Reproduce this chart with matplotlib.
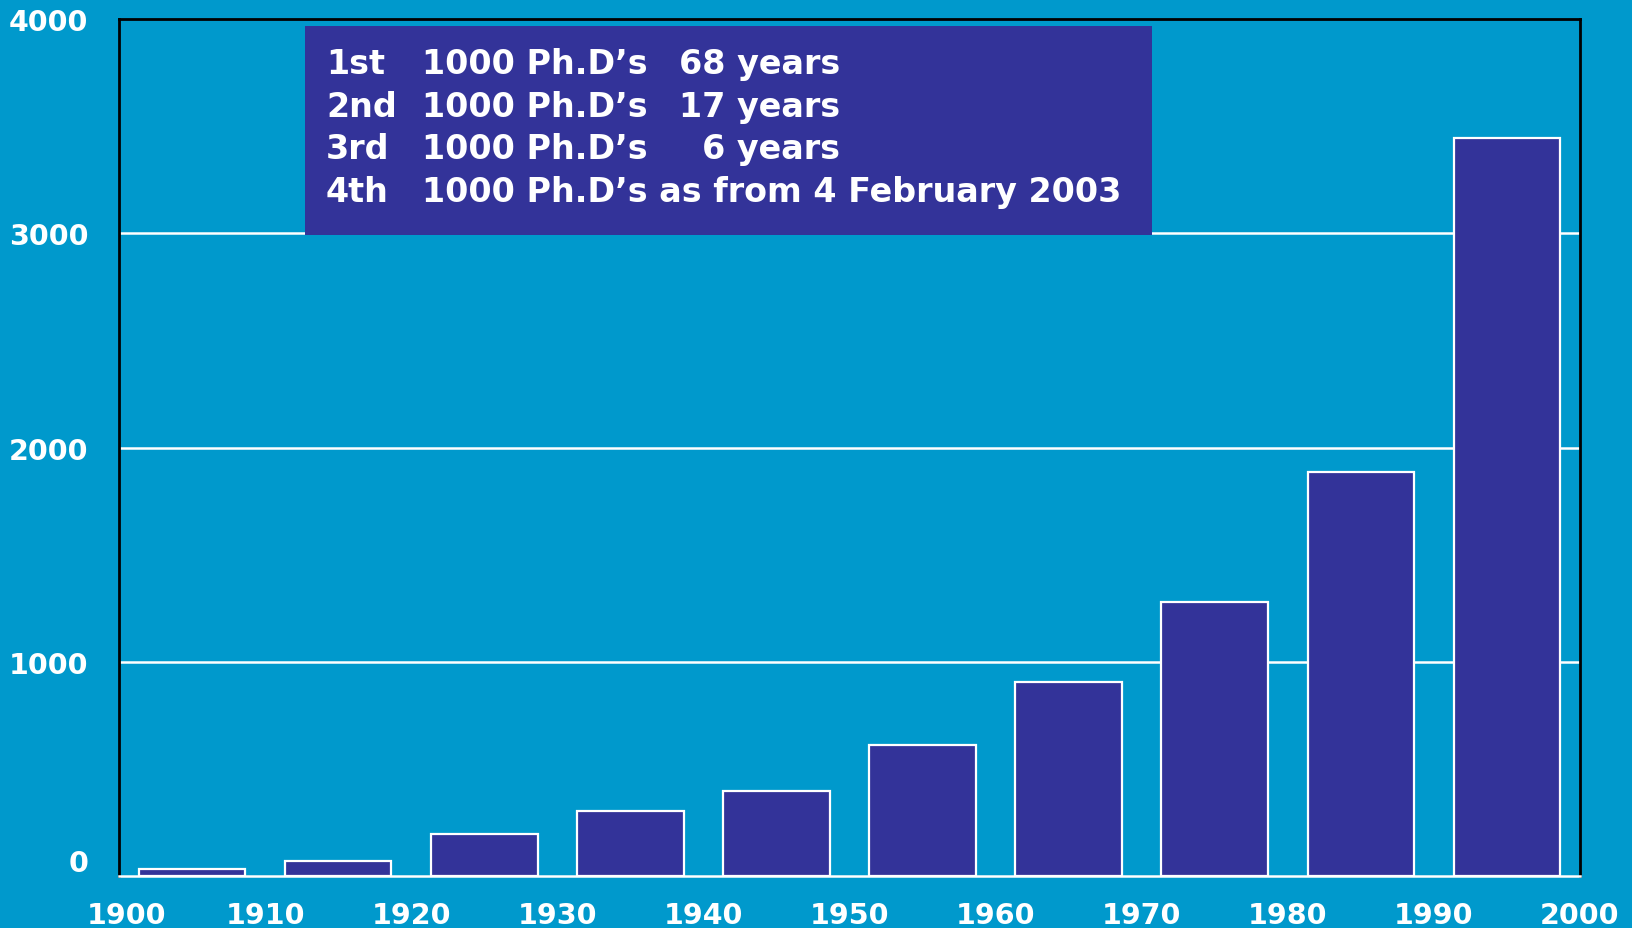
import matplotlib
matplotlib.use("Agg")
import matplotlib.pyplot as plt
from matplotlib.patches import Rectangle
from matplotlib.transforms import ScaledTranslation

# Data
decade_centers = [1905, 1915, 1925, 1935, 1945, 1955, 1965, 1975, 1985, 1995]
phd_counts = [33, 70, 196, 303, 397, 613, 905, 1279, 1887, 3445]
x_ticks = [1900, 1910, 1920, 1930, 1940, 1950, 1960, 1970, 1980, 1990, 2000]
y_ticks = [0, 1000, 2000, 3000, 4000]
box_col1 = ["1st", "2nd", "3rd", "4th"]
box_col2 = ["1000 Ph.D\u2019s", "1000 Ph.D\u2019s", "1000 Ph.D\u2019s",
            "1000 Ph.D\u2019s as from 4 February 2003"]
box_col3 = ["68 years", "17 years", "6 years", ""]

BG = "#0099CC"
BAR = "#333399"

W, H, DPI = 1632, 929, 100
fig = plt.figure(figsize=(W / DPI, H / DPI), dpi=DPI, facecolor=BG)
ax = fig.add_axes([119 / W, 1 - 877 / H, (1580 - 119) / W, (877 - 20) / H])
ax.set_facecolor(BG)

ax.bar(decade_centers, phd_counts, width=7.3, color=BAR, edgecolor="white",
       linewidth=1.6, zorder=3)

ax.set_xlim(1900, 2000)
ax.set_ylim(0, 4000)
ax.set_xticks(x_ticks)
ax.set_yticks(y_ticks)
ax.set_xticklabels([str(v) for v in x_ticks])
ax.set_yticklabels([str(v) for v in y_ticks])
ax.tick_params(axis="both", length=0, labelcolor="white", labelsize=20.5)
ax.tick_params(axis="y", pad=22)
ax.tick_params(axis="x", pad=18)
for lab in ax.get_xticklabels() + ax.get_yticklabels():
    lab.set_fontweight("bold")

ax.set_axisbelow(True)
ax.yaxis.grid(True, color="white", linewidth=1.8)
ax.xaxis.grid(False)
gl = ax.get_ygridlines()
gl[0].set_visible(False)
gl[-1].set_visible(False)

for s in ["left", "top", "right"]:
    ax.spines[s].set_color("black")
    ax.spines[s].set_linewidth(2.0)
ax.spines["bottom"].set_color("white")
ax.spines["bottom"].set_linewidth(1.8)

# Shift "0" label up and "1900" label right as in the reference
ylabs = ax.get_yticklabels()
ylabs[0].set_transform(ylabs[0].get_transform() + ScaledTranslation(0, 16 / DPI, fig.dpi_scale_trans))
xlabs = ax.get_xticklabels()
xlabs[0].set_transform(xlabs[0].get_transform() + ScaledTranslation(8 / DPI, 0, fig.dpi_scale_trans))

# Text box
fig.patches.append(Rectangle((305 / W, 1 - 236 / H), (1152 - 305) / W, (236 - 27) / H,
                             transform=fig.transFigure, facecolor=BAR, edgecolor="none",
                             zorder=5))
baselines = [74, 116.7, 159.4, 202.1]
fs = 24
for i in range(4):
    yb = 1 - baselines[i] / H
    fig.text(326 / W, yb, box_col1[i], color="white", fontsize=fs, fontweight="bold",
             ha="left", va="baseline", zorder=6)
    fig.text(422 / W, yb, box_col2[i], color="white", fontsize=fs, fontweight="bold",
             ha="left", va="baseline", zorder=6)
    if box_col3[i]:
        fig.text(840 / W, yb, box_col3[i], color="white", fontsize=fs, fontweight="bold",
                 ha="right", va="baseline", zorder=6)

fig.savefig("out.png", dpi=DPI, facecolor=BG)
